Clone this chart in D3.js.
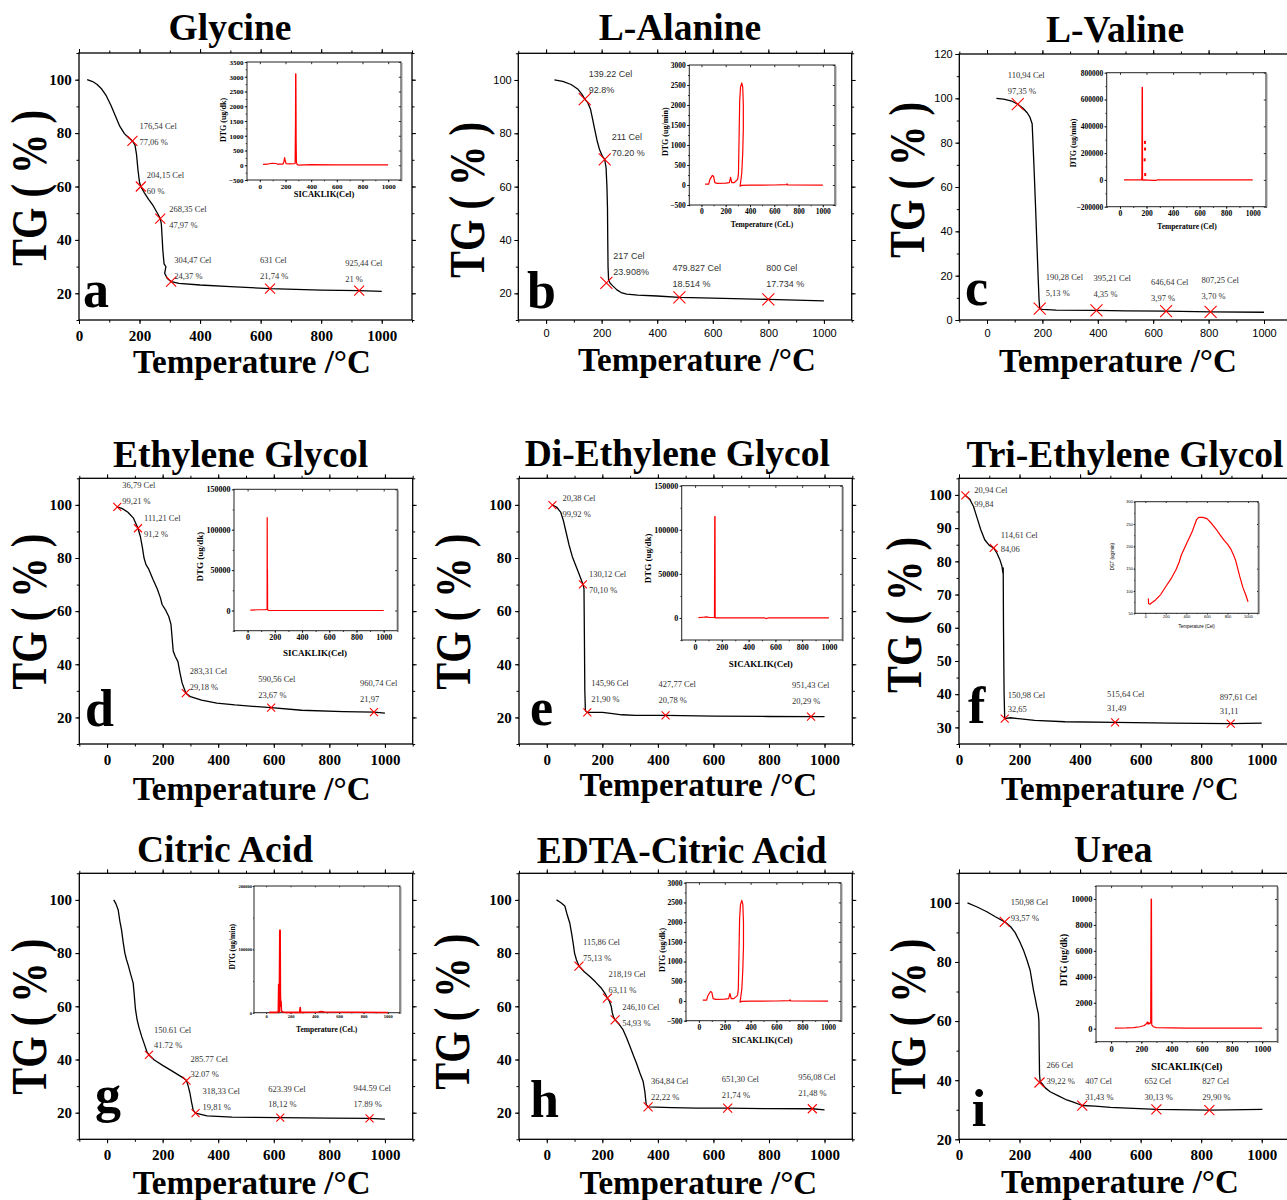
<!DOCTYPE html>
<html><head><meta charset="utf-8">
<script src="https://cdn.jsdelivr.net/npm/d3@7"></script>
<style>body{margin:0;background:#fff}svg{display:block}</style>
</head><body>
<svg id="chart" width="1287" height="1200"></svg>
<script>
// ---------------- DATA ----------------
const titles = ["Glycine","L-Alanine","L-Valine","Ethylene Glycol","Di-Ethylene Glycol","Tri-Ethylene Glycol","Citric Acid","EDTA-Citric Acid","Urea"];
const letters = ["a","b","c","d","e","f","g","h","i"];
const xTitleText = "Temperature /\u00B0C";
const yTitleText = "TG ( % )";
const tgXTicks = [0,200,400,600,800,1000];
const insetXTicks = [0,200,400,600,800,1000];

// Glycine
const glycineTG = [[27,100],[45,99.3],[60,98.2],[75,96.5],[90,94],[105,90.5],[120,86.5],[135,82.5],[150,79.8],[165,78.2],[176.54,77.06],[185,75.5],[190,72],[195,66],[200,61.5],[204.15,60],[215,57.8],[230,55.2],[245,52.8],[260,49.8],[268.35,47.97],[272,46],[274,42],[277,36],[281,31],[287,30],[283,27.5],[292,25.5],[304.47,24.37],[330,23.7],[400,23.1],[500,22.5],[631,21.74],[800,21.2],[925.44,21],[1000,20.7]];
const glycineMarks = [[176.54,77.06],[204.15,60],[268.35,47.97],[304.47,24.37],[631,21.74],[925.44,21]];
const glycineMarkText = [["176,54 Cel","77,06 %"],["204,15 Cel","60 %"],["268,35 Cel","47,97 %"],["304,47 Cel","24,37 %"],["631 Cel","21,74 %"],["925,44 Cel","21 %"]];
const glycineDTG = [[25,30],[60,35],[80,60],[100,65],[125,60],[135,40],[160,35],[180,40],[188,120],[193,260],[198,150],[205,50],[230,45],[265,50],[275,60],[278,1500],[279,3100],[281,3100],[283,800],[285,100],[290,30],[300,5],[400,20],[600,15],[800,10],[1000,10]];

// L-Alanine
const alanineTG = [[30,100],[60,99.5],[90,98.3],[115,96.5],[130,94.5],[139.22,92.8],[150,91.5],[160,89],[168,85],[175,81.5],[183,77.5],[192,74],[202,71.5],[211,70.2],[216,67],[219,60],[221,52],[222,40],[223,30],[225,25],[230,23.9],[240,22.8],[255,21.3],[270,20.3],[290,19.7],[330,19.3],[400,19],[479.827,18.514],[600,18.2],[800,17.734],[1000,17.2]];
const alanineMarks = [[139.22,92.8],[211,70.2],[217,23.908],[479.827,18.514],[800,17.734]];
const alanineMarkText = [["139.22 Cel","92.8%"],["211 Cel","70.20 %"],["217 Cel","23.908%"],["479.827 Cel","18.514 %"],["800 Cel","17.734 %"]];
const alanineDTG = [[30,20],[60,20],[70,140],[90,240],[100,220],[110,60],[130,40],[200,45],[230,60],[240,190],[250,60],[270,60],[295,130],[300,160],[305,300],[310,1200],[315,2100],[322,2450],[332,2550],[340,2450],[345,2000],[345,1400],[340,800],[332,300],[322,50],[318,-30],[330,-10],[400,-5],[600,0],[700,10],[705,30],[710,0],[1000,-5]];

// L-Valine
const valineTG = [[34,100],[60,99.6],[90,98.7],[110.94,97.35],[130,95.5],[145,93.5],[155,91.5],[163,88.5],[166,80],[170,68],[175,52],[180,35],[185,18],[188,9],[190.28,5.13],[200,4.8],[250,4.5],[395.21,4.35],[500,4.15],[646.64,3.97],[807.25,3.7],[1000,3.5]];
const valineMarks = [[110.94,97.35],[190.28,5.13],[395.21,4.35],[646.64,3.97],[807.25,3.7]];
const valineMarkText = [["110,94 Cel","97,35 %"],["190,28 Cel","5,13 %"],["395,21 Cel","4,35 %"],["646,64 Cel","3,97 %"],["807,25 Cel","3,70 %"]];
const valineDTG = [[30,0],[163,0],[165,25000],[167,690000],[169,690000],[170,0],[175,-2000],[180,0],[250,-3000],[275,-3000],[280,0],[1000,0]];
const valineDTGDots = [[188,280000],[189,230000],[186,150000],[190,40000]];

// Ethylene Glycol
const egTG = [[36.79,99.21],[55,98.6],[75,97.2],[95,95],[111.21,91.2],[120,88],[127,84],[133,80],[140,77.5],[150,75.8],[165,72],[180,68.5],[192,65],[198,62.5],[210,60.5],[222,58],[230,55],[234,50],[238,45],[245,43],[255,41],[262,37],[270,33],[283.31,29.18],[300,27.8],[340,26.5],[395,25.4],[460,24.7],[590.56,23.67],[700,22.7],[850,22.2],[960.74,21.97],[1000,21.6]];
const egMarks = [[36.79,99.21],[111.21,91.2],[283.31,29.18],[590.56,23.67],[960.74,21.97]];
const egMarkText = [["36,79 Cel","99,21 %"],["111,21 Cel","91,2 %"],["283,31 Cel","29,18 %"],["590,56 Cel","23,67 %"],["960,74 Cel","21,97"]];
const egDTG = [[20,400],[80,900],[130,1000],[143,1500],[144,115000],[145,45000],[146,50000],[147,1000],[152,0],[400,0],[1000,0]];

// Di-Ethylene Glycol
const degTG = [[20.38,99.92],[35,99.2],[50,97.3],[60,94],[70,89.5],[80,85],[92,80.5],[105,77],[118,73.5],[130.12,70.1],[134,68.5],[135.5,50],[137,30],[139,22.5],[145.96,21.9],[200,21.9],[230,21.5],[270,21],[320,20.8],[427.77,20.78],[600,20.5],[800,20.35],[951.43,20.29],[1000,20.3]];
const degMarks = [[20.38,99.92],[130.12,70.1],[145.96,21.9],[427.77,20.78],[951.43,20.29]];
const degMarkText = [["20,38 Cel","99,92 %"],["130,12 Cel","70,10 %"],["145,96 Cel","21,90 %"],["427,77 Cel","20,78 %"],["951,43 Cel","20,29 %"]];
const degDTG = [[25,300],[60,800],[85,1200],[110,500],[145,500],[147,115000],[149,115000],[150,0],[520,0],[530,-700],[545,0],[1000,0]];

// Tri-Ethylene Glycol
const tegTG = [[20.94,99.84],[35,98.8],[48,96.5],[60,93],[72,89.5],[85,86.5],[100,84.8],[114.61,84.06],[125,82.5],[135,80.5],[142,78.5],[145,76.5],[146,78],[147,60],[149,40],[150.98,32.65],[170,32.9],[250,32.1],[350,31.7],[515.64,31.49],[700,31.3],[897.61,31.11],[1000,31.3]];
const tegMarks = [[20.94,99.84],[114.61,84.06],[150.98,32.65],[515.64,31.49],[897.61,31.11]];
const tegMarkText = [["20,94 Cel","99,84"],["114,61 Cel","84,06"],["150,98 Cel","32,65"],["515,64 Cel","31,49"],["897,61 Cel","31,11"]];
const tegDTG = [[30,83],[32,72],[45,70],[60,73],[100,80],[150,92],[200,110],[250,127],[300,148],[330,165],[350,180],[380,195],[400,205],[430,220],[460,235],[480,248],[500,260],[520,265],[560,265],[600,262],[650,250],[700,235],[730,225],[770,213],[800,205],[830,195],[860,180],[880,168],[900,150],[920,132],[950,108],[980,90],[1000,76]];

// Citric Acid
const citricTG = [[24,100],[32,98.5],[40,96.2],[46,92],[52,88.7],[58,84],[64,80],[70,77.5],[76,75.5],[85,72],[94,68.7],[98,64],[102,59],[108,55],[115,52],[125,48.5],[135,45.5],[143,43],[150.61,41.72],[170,39.8],[200,37.8],[230,35.9],[255,34.3],[275,33],[285.77,32.07],[292,30],[298,27.5],[304,24],[310,21],[318.33,19.81],[360,18.8],[450,18.3],[623.39,18.12],[800,17.95],[944.59,17.89],[1000,17.6]];
const citricMarks = [[150.61,41.72],[285.77,32.07],[318.33,19.81],[623.39,18.12],[944.59,17.89]];
const citricMarkText = [["150.61 Cel","41.72 %"],["285.77 Cel","32.07 %"],["318,33 Cel","19,81 %"],["623.39 Cel","18,12 %"],["944.59 Cel","17.89 %"]];
const citricDTG = [[25,500],[90,500],[100,2000],[103,45000],[106,3000],[108,1000],[112,130000],[115,130000],[117,28000],[120,10000],[122,18000],[126,2000],[140,1000],[160,500],[275,500],[280,8000],[283,500],[430,1000],[450,2000],[480,1000],[1000,300]];

// EDTA-Citric Acid
const edtaTG = [[35,100],[50,99],[65,97.7],[72,95],[83,91.2],[90,87],[95,83.7],[100,80],[107,77.4],[115.86,75.13],[135,73],[155,71.2],[175,69.2],[195,67],[210,64.8],[218.19,63.11],[225,62],[232,60],[236,57.5],[240,56],[246.1,54.93],[262,53],[275,51.1],[288,48],[300,44.8],[312,41.5],[323,38.6],[335,35],[347,31.7],[353,28],[358,23],[364.84,22.22],[450,21.9],[540,21.7],[651.3,21.74],[800,21.5],[956.08,21.48],[1000,21.1]];
const edtaMarks = [[115.86,75.13],[218.19,63.11],[246.1,54.93],[364.84,22.22],[651.3,21.74],[956.08,21.48]];
const edtaMarkText = [["115,86 Cel","75,13 %"],["218,19 Cel","63,11 %"],["246,10 Cel","54,93 %"],["364,84 Cel","22,22 %"],["651,30 Cel","21,74 %"],["956,08 Cel","21,48 %"]];
const edtaDTG = [[30,20],[60,20],[70,140],[90,240],[100,220],[110,60],[130,40],[200,45],[230,60],[240,190],[250,60],[270,60],[295,130],[300,160],[305,300],[310,1200],[315,2100],[322,2450],[332,2550],[340,2450],[345,2000],[345,1400],[340,800],[332,300],[322,50],[318,-30],[330,-10],[400,-5],[600,0],[700,10],[705,30],[710,0],[1000,-5]];

// Urea
const ureaTG = [[28,100],[60,98.6],[92,97],[120,95.3],[150.98,93.57],[170,92],[185,90],[200,87],[213,84],[225,80.5],[235,77.2],[241,73.5],[246,70.5],[252,67.5],[257,64.8],[262,62.5],[264,60],[265,50],[266,42],[268,39.5],[274,38.9],[285,37.4],[301,36.1],[330,34.6],[356,33.3],[380,32.5],[407,31.43],[450,31.2],[500,30.8],[652,30.13],[827,29.9],[1002,30.1]];
const ureaMarks = [[150.98,93.57],[266,39.22],[407,31.43],[652,30.13],[827,29.9]];
const ureaMarkText = [["150,98 Cel","93,57 %"],["266 Cel","39,22 %"],["407 Cel","31,43 %"],["652 Cel","30,13 %"],["827 Cel","29,90 %"]];
const ureaDTG = [[25,50],[100,60],[150,80],[190,150],[220,250],[235,400],[240,520],[245,350],[250,480],[255,380],[262,450],[265,10000],[267,10000],[269,300],[280,150],[300,80],[500,50],[1000,40]];

// Axis tick values
const tgYTicks = [[20,40,60,80,100],[20,40,60,80,100],[0,20,40,60,80,100,120],[20,40,60,80,100],[20,40,60,80,100],[30,40,50,60,70,80,90,100],[20,40,60,80,100],[20,40,60,80,100],[20,40,60,80,100]];
const dtgYTicks = [[-500,0,500,1000,1500,2000,2500,3000,3500],[-500,0,500,1000,1500,2000,2500,3000],[-200000,0,200000,400000,600000,800000],[0,50000,100000,150000],[0,50000,100000,150000],[50,100,150,200,250,300],[0,100000,200000],[-500,0,500,1000,1500,2000,2500,3000],[0,2000,4000,6000,8000,10000]];
const dtgYLabels = ["DTG (ug/dk)","DTG (ug/min)","DTG (ug/min)","DTG (ug/dk)","DTG (ug/dk)","DGT (ug/min)","DTG (ug/min)","DTG (ug/dk)","DTG (ug/dk)"];
const dtgXLabels = ["SICAKLIK(Cel)","Temperature (CeL)","Temperature (Cel)","SICAKLIK(Cel)","SICAKLIK(Cel)","Temperature (Cel)","Temperature (Cel.)","SICAKLIK(Cel)","SICAKLIK(Cel)"];

const tgSeries = [glycineTG,alanineTG,valineTG,egTG,degTG,tegTG,citricTG,edtaTG,ureaTG];
const dtgSeries = [glycineDTG,alanineDTG,valineDTG,egDTG,degDTG,tegDTG,citricDTG,edtaDTG,ureaDTG];
const markSeries = [glycineMarks,alanineMarks,valineMarks,egMarks,degMarks,tegMarks,citricMarks,edtaMarks,ureaMarks];
const markTexts = [glycineMarkText,alanineMarkText,valineMarkText,egMarkText,degMarkText,tegMarkText,citricMarkText,edtaMarkText,ureaMarkText];

// ---------------- LAYOUT (pixels / styles) ----------------
const SERIF = "'Liberation Serif','Times New Roman',serif";
const SANS = "'Liberation Sans',Arial,sans-serif";
const layout = [
 {frame:[79,53,333,267], xDom:[0,1100], yDom:[10,110], yMinor:10, tickSans:false, title:[230,40], letter:[83,307], yT:[32.5,188], xT:[252,373],
  inset:{rect:[247,62,154,118], yDom:[-500,3500], yMinor:250, tfs:7, lfx:8.5, lfy:8, xL:[324,197], yL:[223,120], sans:false},
  ann:{fs:8.5, sans:false, gap:16, ms:5, off:[[7,-12],[6,-9],[9,-7],[3,-19],[-10,-26],[-14,-25]]}},
 {frame:[518.3,53.3,333.4,266.7], xDom:[-100,1100], yDom:[10,110], yMinor:10, tickSans:true, title:[680,40], letter:[527,308], yT:[471,200], xT:[697,371],
  inset:{rect:[689.3,65,145.7,140], yDom:[-500,3000], yMinor:250, tfs:7.5, lfx:7.5, lfy:8, xL:[762,226.7], yL:[665,131.7], sans:false},
  ann:{fs:9, sans:true, gap:16, ms:6, off:[[4,-22],[7,-19],[7,-24],[-7,-26],[-2,-28]]}},
 {frame:[959.3,54,332.4,266], xDom:[-100,1100], yDom:[0,120], yMinor:10, tickSans:true, title:[1115,41.7], letter:[965,305], yT:[911,180], xT:[1118,371.7],
  inset:{rect:[1106.7,72.7,159.3,134], yDom:[-200000,800000], yMinor:100000, tfs:7.5, lfx:7.5, lfy:8, xL:[1187,229.3], yL:[1073,143], sans:false},
  ann:{fs:8.5, sans:false, gap:16, ms:6, off:[[-10,-26],[6,-29],[-3,-29],[-15,-26],[-9,-29]]}},
 {frame:[79.3,478.3,333.4,265.7], xDom:[-100,1100], yDom:[10,110], yMinor:10, tickSans:false, title:[240.7,466.7], letter:[85,726], yT:[32.5,611.7], xT:[251.7,800],
  inset:{rect:[234,489.3,163.3,141.4], yDom:[-25000,150000], yMinor:25000, tfs:8, lfx:9, lfy:9, xL:[315,656], yL:[200,556.7], sans:false},
  ann:{fs:8.5, sans:false, gap:16, ms:4, off:[[5,-19],[6,-7],[4,-19],[-13,-26],[-14,-26]]}},
 {frame:[519,478.3,333.3,265.7], xDom:[-100,1100], yDom:[10,110], yMinor:10, tickSans:false, title:[677.3,466], letter:[530,725], yT:[457,611.7], xT:[698.3,796],
  inset:{rect:[681.7,485.7,160.6,154.3], yDom:[-25000,150000], yMinor:25000, tfs:8, lfx:9, lfy:9, xL:[760.7,667.3], yL:[648.3,558.3], sans:false},
  ann:{fs:8.5, sans:false, gap:16, ms:4, off:[[10,-4],[6,-7],[4,-26],[-7,-28],[-19,-29]]}},
 {frame:[959,478.3,333,265.7], xDom:[0,1100], yDom:[25,105], yMinor:5, tickSans:false, title:[1125,466.7], letter:[968,723.3], yT:[908.3,615], xT:[1120,800],
  inset:{rect:[1135,501.7,123.3,111.6], yDom:[50,300], yMinor:25, tfs:4, lfx:4.5, lfy:4.5, xL:[1196.7,627.7], yL:[1112.7,556.7], sans:true},
  ann:{fs:8.5, sans:false, gap:14, ms:4, off:[[9,-2],[7,-10],[3,-21],[-8,-25],[-11,-24]]}},
 {frame:[79.3,873.3,333.4,266], xDom:[-100,1100], yDom:[10,110], yMinor:10, tickSans:false, title:[225,861.7], letter:[95,1111.7], yT:[32.5,1016.7], xT:[251.7,1194],
  inset:{rect:[254,886,146,126.7], yDom:[0,200000], yMinor:50000, tfs:4.5, lfx:7.5, lfy:7.5, xL:[326.7,1031.7], yL:[232.3,946.7], sans:false},
  ann:{fs:8.5, sans:false, gap:15.5, ms:4, off:[[5,-22],[4,-19],[7,-19],[-12,-26],[-16,-27]]}},
 {frame:[519,873.3,333.3,266], xDom:[-100,1100], yDom:[10,110], yMinor:10, tickSans:false, title:[681.7,863.3], letter:[530,1116.7], yT:[456,1011.7], xT:[698.3,1194],
  inset:{rect:[686,882.7,155,138], yDom:[-500,3000], yMinor:250, tfs:7.5, lfx:8.5, lfy:8, xL:[762.3,1042.7], yL:[661.7,950], sans:false},
  ann:{fs:8.5, sans:false, gap:16, ms:4.5, off:[[4,-21],[1,-21],[7,-10],[3,-23],[-6,-26],[-14,-29]]}},
 {frame:[959,873.3,333,266], xDom:[0,1100], yDom:[20,110], yMinor:10, tickSans:false, title:[1113.3,861.7], letter:[971.7,1126], yT:[912,1016.7], xT:[1120,1192.5],
  inset:{rect:[1096,886,181.3,155.7], yDom:[-1000,11000], yMinor:1000, tfs:8.5, lfx:10, lfy:9.5, xL:[1186.7,1070], yL:[1063.3,960], sans:false},
  ann:{fs:8.5, sans:false, gap:16, ms:5, off:[[6,-17],[7,-14],[3,-22],[-12,-25],[-7,-26]]}}
];

// ---------------- DRAW ----------------
const svg = d3.select('#chart');
svg.append('rect').attr('width',1287).attr('height',1200).attr('fill','#fff');

function rangeStep(a,b,s){ const out=[]; for(let v=a; v<=b+1e-9; v+=s) out.push(+v.toFixed(6)); return out; }
function styleTicks(sel, fam, fs, weight){
  sel.selectAll('.domain').remove();
  sel.selectAll('line').attr('stroke','#000');
  sel.selectAll('text').attr('font-family',fam).attr('font-size',fs).attr('font-weight',weight).attr('fill','#000');
}

titles.forEach((title, i) => {
  const L = layout[i];
  const [fx,fy,fw,fh] = L.frame;
  const g = svg.append('g');
  const x = d3.scaleLinear().domain(L.xDom).range([fx, fx+fw]);
  const y = d3.scaleLinear().domain(L.yDom).range([fy+fh, fy]);

  // Title
  g.append('text').attr('x',L.title[0]).attr('y',L.title[1]).attr('text-anchor','middle')
    .attr('font-family',SERIF).attr('font-weight','bold').attr('font-size',37.5).attr('fill','#000').text(title);

  // Ticks
  const fam = L.tickSans ? SANS : SERIF;
  const fs = L.tickSans ? 11 : 15;
  const weight = L.tickSans ? 'normal' : 'bold';
  const xPad = L.tickSans ? 4.9 : 6.3;
  const yPad = L.tickSans ? 2.6 : 3.3;
  const xMinor = rangeStep(L.xDom[0], L.xDom[1], 100);
  const yMinor = rangeStep(L.yDom[0], L.yDom[1], L.yMinor);
  const yMaj = tgYTicks[i];

  g.append('g').attr('transform',`translate(0,${fy+fh})`)
    .call(d3.axisBottom(x).tickValues(xMinor).tickSize(2.5).tickFormat(''))
    .call(s=>styleTicks(s,fam,fs,weight));
  g.append('g').attr('transform',`translate(0,${fy+fh})`)
    .call(d3.axisBottom(x).tickValues(tgXTicks).tickSize(4).tickPadding(xPad).tickFormat(d3.format('d')))
    .call(s=>styleTicks(s,fam,fs,weight));
  g.append('g').attr('transform',`translate(0,${fy})`)
    .call(d3.axisTop(x).tickValues(xMinor).tickSize(2.5).tickFormat(''))
    .call(s=>styleTicks(s,fam,fs,weight));
  g.append('g').attr('transform',`translate(0,${fy})`)
    .call(d3.axisTop(x).tickValues(tgXTicks).tickSize(4).tickFormat(''))
    .call(s=>styleTicks(s,fam,fs,weight));
  g.append('g').attr('transform',`translate(${fx},0)`)
    .call(d3.axisLeft(y).tickValues(yMinor).tickSize(2.5).tickFormat(''))
    .call(s=>styleTicks(s,fam,fs,weight));
  g.append('g').attr('transform',`translate(${fx},0)`)
    .call(d3.axisLeft(y).tickValues(yMaj).tickSize(4).tickPadding(yPad).tickFormat(d3.format('d')))
    .call(s=>styleTicks(s,fam,fs,weight));
  g.append('g').attr('transform',`translate(${fx+fw},0)`)
    .call(d3.axisRight(y).tickValues(yMinor).tickSize(2.5).tickFormat(''))
    .call(s=>styleTicks(s,fam,fs,weight));
  g.append('g').attr('transform',`translate(${fx+fw},0)`)
    .call(d3.axisRight(y).tickValues(yMaj).tickSize(4).tickFormat(''))
    .call(s=>styleTicks(s,fam,fs,weight));

  // Frame
  g.append('rect').attr('x',fx).attr('y',fy).attr('width',fw).attr('height',fh)
    .attr('fill','none').attr('stroke','#000').attr('stroke-width',1.3);

  // TG curve
  g.append('path').datum(tgSeries[i])
    .attr('d', d3.line().x(d=>x(d[0])).y(d=>y(d[1])))
    .attr('fill','none').attr('stroke','#000').attr('stroke-width',1.3).attr('stroke-linejoin','round');

  // Markers and annotations
  const A = L.ann;
  const annFam = A.sans ? SANS : SERIF;
  markSeries[i].forEach((m, k) => {
    const cx = x(m[0]), cy = y(m[1]), s = A.ms;
    g.append('path').attr('d',`M${cx-s},${cy-s}L${cx+s},${cy+s}M${cx-s},${cy+s}L${cx+s},${cy-s}`)
      .attr('stroke','#ff0000').attr('stroke-width',1.1).attr('fill','none');
    const [dx, dy] = A.off[k];
    const t = g.append('text').attr('font-family',annFam).attr('font-size',A.fs).attr('fill','#333');
    t.append('tspan').attr('x',cx+dx).attr('y',cy+dy).text(markTexts[i][k][0]);
    t.append('tspan').attr('x',cx+dx).attr('y',cy+dy+A.gap).text(markTexts[i][k][1]);
  });

  // Panel letter
  g.append('text').attr('x',L.letter[0]).attr('y',L.letter[1])
    .attr('font-family',SERIF).attr('font-weight','bold').attr('font-size',52).attr('fill','#000').text(letters[i]);

  // Axis titles
  g.append('text').attr('x',L.xT[0]).attr('y',L.xT[1]).attr('text-anchor','middle')
    .attr('font-family',SERIF).attr('font-weight','bold').attr('font-size',33).attr('fill','#000').text(xTitleText);
  g.append('text').attr('transform',`translate(${L.yT[0]+13},${L.yT[1]}) rotate(-90)`).attr('text-anchor','middle')
    .attr('font-family',SERIF).attr('font-weight','bold').attr('font-size',50).attr('fill','#000')
    .attr('textLength',156).attr('lengthAdjust','spacingAndGlyphs').text(yTitleText);

  // ---------- Inset ----------
  const I = L.inset;
  const [ix,iy,iw,ih] = I.rect;
  const xi = d3.scaleLinear().domain([-100,1100]).range([ix, ix+iw]);
  const yi = d3.scaleLinear().domain(I.yDom).range([iy+ih, iy]);
  const ig = svg.append('g');
  ig.append('rect').attr('x',ix).attr('y',iy).attr('width',iw).attr('height',ih).attr('fill','#fff');
  const ifam = I.sans ? SANS : SERIF;
  const iweight = I.sans ? 'normal' : 'bold';
  const ts = I.tfs < 5 ? 1.3 : 2.2;
  const ixMinor = rangeStep(-100, 1100, 100);
  const iyMinor = rangeStep(I.yDom[0], I.yDom[1], I.yMinor);
  const iyMaj = dtgYTicks[i];
  const fmt = d3.format('d');
  ig.append('g').attr('transform',`translate(0,${iy+ih})`)
    .call(d3.axisBottom(xi).tickValues(ixMinor).tickSize(ts*0.6).tickFormat(''))
    .call(s=>styleTicks(s,ifam,I.tfs,iweight));
  ig.append('g').attr('transform',`translate(0,${iy+ih})`)
    .call(d3.axisBottom(xi).tickValues(insetXTicks).tickSize(ts).tickPadding(ts*0.8).tickFormat(fmt))
    .call(s=>styleTicks(s,ifam,I.tfs,iweight));
  ig.append('g').attr('transform',`translate(${ix},0)`)
    .call(d3.axisLeft(yi).tickValues(iyMinor).tickSize(ts*0.6).tickFormat(''))
    .call(s=>styleTicks(s,ifam,I.tfs,iweight));
  ig.append('g').attr('transform',`translate(${ix},0)`)
    .call(d3.axisLeft(yi).tickValues(iyMaj).tickSize(ts).tickPadding(ts*0.6).tickFormat(fmt))
    .call(s=>styleTicks(s,ifam,I.tfs,iweight));
  ig.append('g').attr('transform',`translate(${ix+iw},0)`)
    .call(d3.axisLeft(yi).tickValues(iyMaj).tickSize(ts).tickFormat(''))
    .call(s=>styleTicks(s,ifam,I.tfs,iweight));
  ig.append('g').attr('transform',`translate(0,${iy})`)
    .call(d3.axisBottom(xi).tickValues(insetXTicks).tickSize(ts).tickFormat(''))
    .call(s=>styleTicks(s,ifam,I.tfs,iweight));
  ig.selectAll('line').attr('stroke-width',0.8);

  ig.append('rect').attr('x',ix).attr('y',iy).attr('width',iw).attr('height',ih)
    .attr('fill','none').attr('stroke','#222').attr('stroke-width',1);
  ig.append('line').attr('x1',ix+iw+0.8).attr('x2',ix+iw+0.8).attr('y1',iy+1).attr('y2',iy+ih+0.8)
    .attr('stroke','#888').attr('stroke-width',1.2);

  ig.append('path').datum(dtgSeries[i])
    .attr('d', d3.line().x(d=>xi(d[0])).y(d=>yi(d[1])))
    .attr('fill','none').attr('stroke','#ff0000').attr('stroke-width', i===6 ? 1.6 : 1.2).attr('stroke-linejoin','round');
  if (i === 2) {
    ig.selectAll('.dot').data(valineDTGDots).enter().append('rect')
      .attr('x',d=>xi(d[0])-1).attr('y',d=>yi(d[1])-1.5).attr('width',2).attr('height',3).attr('fill','#ff0000');
  }

  ig.append('text').attr('x',I.xL[0]).attr('y',I.xL[1]).attr('text-anchor','middle')
    .attr('font-family',ifam).attr('font-weight',iweight).attr('font-size',I.lfx).attr('fill','#000').text(dtgXLabels[i]);
  ig.append('text').attr('transform',`translate(${I.yL[0]+I.lfy*0.35},${I.yL[1]}) rotate(-90)`).attr('text-anchor','middle')
    .attr('font-family',ifam).attr('font-weight',iweight).attr('font-size',I.lfy).attr('fill','#000').text(dtgYLabels[i]);
});
</script>
</body></html>
